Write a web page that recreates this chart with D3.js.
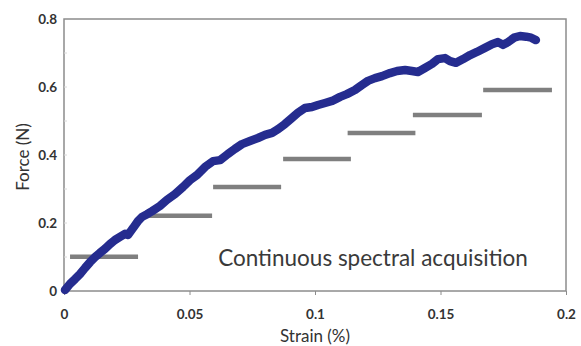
<!DOCTYPE html>
<html><head><meta charset="utf-8">
<script src="https://cdn.jsdelivr.net/npm/d3@7"></script>
<style>body{margin:0;background:#fff}svg{display:block}text{font-family:Lato,"Open Sans",sans-serif}</style>
</head><body>
<svg id="c" width="581" height="346"></svg>
<script>
const strain = [0.0004,0.0024,0.0044,0.0064,0.0084,0.0104,0.0124,0.0143,0.0163,0.0183,0.0203,0.0223,0.0243,0.0255,0.0275,0.0295,0.0311,0.0331,0.0351,0.0382,0.0410,0.0442,0.0474,0.0502,0.0530,0.0562,0.0594,0.0622,0.0653,0.0681,0.0709,0.0741,0.0773,0.0801,0.0829,0.0853,0.0880,0.0908,0.0932,0.0960,0.0988,0.1012,0.1040,0.1068,0.1100,0.1127,0.1159,0.1187,0.1211,0.1239,0.1267,0.1299,0.1327,0.1359,0.1386,0.1410,0.1438,0.1466,0.1490,0.1518,0.1538,0.1562,0.1590,0.1618,0.1645,0.1677,0.1705,0.1729,0.1749,0.1769,0.1793,0.1817,0.1841,0.1861,0.1880];
const force = [0.003,0.021,0.035,0.050,0.068,0.085,0.100,0.112,0.124,0.138,0.150,0.159,0.168,0.165,0.185,0.206,0.218,0.226,0.235,0.250,0.268,0.285,0.306,0.326,0.341,0.365,0.382,0.385,0.403,0.418,0.432,0.441,0.450,0.459,0.465,0.476,0.491,0.509,0.524,0.538,0.541,0.547,0.553,0.559,0.571,0.579,0.591,0.606,0.618,0.626,0.632,0.641,0.647,0.650,0.647,0.644,0.656,0.668,0.682,0.685,0.676,0.671,0.682,0.694,0.703,0.715,0.726,0.732,0.724,0.732,0.745,0.750,0.748,0.745,0.738];
const segStart = [0.0024,0.0320,0.0594,0.0873,0.1130,0.1390,0.1670];
const segEnd   = [0.0295,0.0590,0.0865,0.1143,0.1400,0.1665,0.1944];
const segForce = [0.101,0.221,0.306,0.388,0.465,0.518,0.591];
const xTicks = [0,0.05,0.1,0.15,0.2];
const xTickLabels = ["0","0.05","0.1","0.15","0.2"];
const yTicks = [0,0.2,0.4,0.6,0.8];
const yTickLabels = ["0","0.2","0.4","0.6","0.8"];
const yMinor = [0.1,0.3,0.5,0.7];

const svg = d3.select("#c");
const L=64,R=566,T=19,B=291;
const x = d3.scaleLinear().domain([0,0.2]).range([L,R]);
const y = d3.scaleLinear().domain([0,0.8]).range([B,T]);

svg.append("rect").attr("x",L).attr("y",T).attr("width",R-L).attr("height",B-T)
  .attr("fill","none").attr("stroke","#8c8c8c").attr("stroke-width",1.5);

const xa = svg.append("g").attr("transform",`translate(0,${B})`)
  .call(d3.axisBottom(x).tickValues(xTicks).tickFormat((d,i)=>xTickLabels[i]).tickSize(4).tickPadding(14));
xa.select(".domain").remove();
xa.selectAll("line").attr("stroke","#8c8c8c").attr("stroke-width",1);
xa.selectAll("text").attr("font-size",13.5).attr("font-weight",700).attr("fill","#333").attr("font-family","Lato, sans-serif");

const ya = svg.append("g").attr("transform",`translate(${L},0)`)
  .call(d3.axisLeft(y).tickValues(yTicks).tickFormat((d,i)=>yTickLabels[i]).tickSize(0).tickPadding(7));
ya.select(".domain").remove();
ya.selectAll("text").attr("font-size",13.5).attr("font-weight",700).attr("fill","#333").attr("font-family","Lato, sans-serif");
svg.append("g").selectAll("line").data(yMinor.concat(yTicks.slice(1,4))).join("line")
  .attr("x1",L).attr("x2",L+3).attr("y1",d=>y(d)).attr("y2",d=>y(d))
  .attr("stroke","#d8d8d8").attr("stroke-width",1);

svg.append("text").attr("x",x(0.1)).attr("y",342).attr("text-anchor","middle")
  .attr("font-size",17).attr("fill","#333").text("Strain (%)");
svg.append("text").attr("transform",`translate(29,${y(0.4)+2}) rotate(-90)`).attr("text-anchor","middle")
  .attr("font-size",17).attr("fill","#333").text("Force (N)");

svg.append("g").selectAll("line").data(segForce).join("line")
  .attr("x1",(d,i)=>x(segStart[i])).attr("x2",(d,i)=>x(segEnd[i]))
  .attr("y1",d=>y(d)).attr("y2",d=>y(d))
  .attr("stroke","#7f7f7f").attr("stroke-width",4.5);

const pts = strain.map((s,i)=>[s,force[i]]);
svg.append("path").datum(pts)
  .attr("d",d3.line().x(d=>x(d[0])).y(d=>y(d[1])))
  .attr("fill","none").attr("stroke","#252c8f").attr("stroke-width",8.5)
  .attr("stroke-linejoin","round").attr("stroke-linecap","round");

svg.append("text").attr("x",373).attr("y",266).attr("text-anchor","middle")
  .attr("font-size",22.5).attr("fill","#3a3a3a").text("Continuous spectral acquisition");
</script>
</body></html>
